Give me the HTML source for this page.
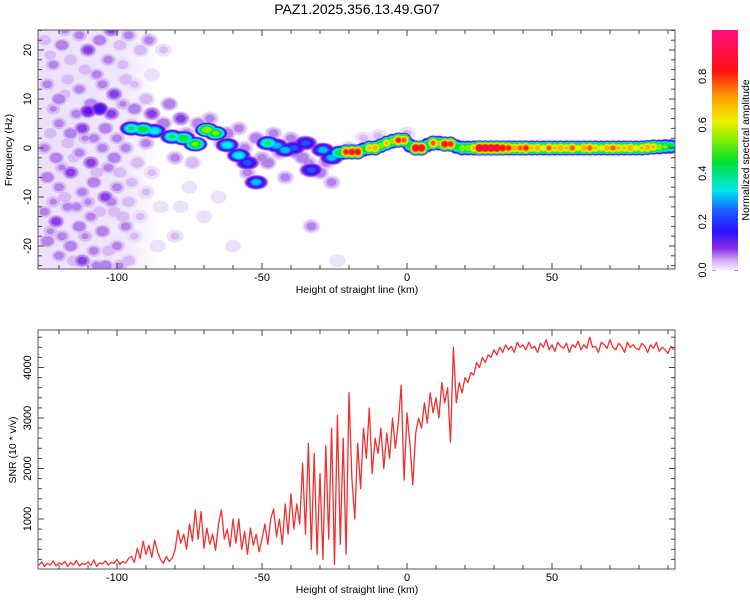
<!DOCTYPE html>
<html><head><meta charset="utf-8"><style>
body{margin:0;background:#fff;}
svg text{font-family:"Liberation Sans",sans-serif;fill:#000;}
</style></head><body>
<svg id="c" width="750" height="600" xmlns="http://www.w3.org/2000/svg">
<defs>
<clipPath id="clipTop"><rect x="38" y="30" width="637" height="239"/></clipPath>
<clipPath id="clipBot"><rect x="38" y="330" width="637" height="239"/></clipPath>
<linearGradient id="cbar" x1="0" y1="1" x2="0" y2="0">
<stop offset="0" stop-color="#f6f0fd"/><stop offset="0.04" stop-color="#cfaaf2"/><stop offset="0.09" stop-color="#8a2be2"/>
<stop offset="0.16" stop-color="#2a10ff"/><stop offset="0.25" stop-color="#1a60ff"/><stop offset="0.33" stop-color="#00e8f0"/>
<stop offset="0.45" stop-color="#00e030"/><stop offset="0.55" stop-color="#90f000"/><stop offset="0.62" stop-color="#f0f000"/>
<stop offset="0.72" stop-color="#ffa000"/><stop offset="0.83" stop-color="#ff1010"/><stop offset="1" stop-color="#ff1080"/>
</linearGradient>
<linearGradient id="washg" x1="0" y1="0" x2="1" y2="0">
<stop offset="0" stop-color="#ece0fa"/><stop offset="0.7" stop-color="#f1e8fb"/><stop offset="1" stop-color="#ffffff"/>
</linearGradient>
</defs>
<text x="357" y="14" font-size="14" text-anchor="middle">PAZ1.2025.356.13.49.G07</text>
<g id="spec" clip-path="url(#clipTop)"></g>
<g id="snr" clip-path="url(#clipBot)"></g>
<g id="axes"></g>
<rect x="712" y="30" width="26" height="240" fill="url(#cbar)"/>
<text transform="translate(749,150) rotate(-90)" font-size="10.5" text-anchor="middle">Normalized spectral amplitude</text>
<text transform="translate(12,150) rotate(-90)" font-size="10.5" text-anchor="middle">Frequency (Hz)</text>
<text transform="translate(16,450) rotate(-90)" font-size="10.5" text-anchor="middle">SNR (10 * v/v)</text>
<text x="357" y="293" font-size="10.5" text-anchor="middle">Height of straight line (km)</text>
<text x="357" y="593" font-size="10.5" text-anchor="middle">Height of straight line (km)</text>
</svg>
<script>
const noiseBlobs=[[-125,22,.08],[-122,17,.1],[-119,21,.12],[-116,18,.08],[-113,23,.1],[-110,20,.15],[-106,22,.12],[-103,18,.1],[-99,21,.08],[-96,23,.1],[-92,20,.08],[-89,22,.1],
[-124,13,.1],[-120,10,.12],[-117,14,.08],[-113,12,.1],[-109,9,.12],[-105,13,.1],[-101,11,.15],[-97,14,.08],
[-110,7.5,.2],[-106,8,.25],[-102,7,.15],[-120,5,.1],[-116,3,.12],[-112,4,.15],[-108,2,.1],[-104,4,.12],[-100,2,.1],
[-125,0,.1],[-121,-2,.12],[-117,1,.08],[-113,-1,.1],[-109,-3,.15],[-105,0,.1],[-101,-2,.12],[-97,0,.1],[-93,-3,.08],
[-124,-6,.12],[-120,-8,.1],[-116,-5,.15],[-112,-9,.1],[-108,-7,.12],[-104,-10,.15],[-100,-8,.1],[-96,-11,.08],
[-125,-13,.1],[-121,-15,.15],[-117,-12,.1],[-113,-16,.12],[-109,-14,.1],[-105,-17,.12],[-101,-13,.08],[-97,-16,.1],
[-124,-19,.12],[-120,-22,.1],[-116,-20,.12],[-112,-23,.15],[-108,-21,.1],[-104,-24,.12],[-100,-20,.1],[-96,-23,.08],
[-123,19,.07],[-118,24,.09],[-111,16,.08],[-107,15,.1],[-102,24,.14],[-98,17,.07],[-94,13,.06],[-122,8,.09],[-118,11,.07],[-114,7,.1],[-98,9,.09],[-95,5,.07],
[-123,3,.08],[-119,-4,.09],[-115,-2,.07],[-111,2,.09],[-107,-5,.08],[-103,-4,.1],[-99,-5,.08],[-95,-7,.07],
[-122,-11,.09],[-118,-10,.08],[-114,-12,.1],[-110,-11,.09],[-106,-13,.08],[-102,-11,.1],[-98,-14,.08],[-94,-18,.06],
[-123,-17,.09],[-119,-18,.1],[-115,-23,.08],[-111,-18,.09],[-107,-24,.1],[-103,-21,.08],[-99,-24,.09],[-92,-14,.06],
[-88,-5,.06],[-85,-12,.05],[-80,-18,.06],[-75,-8,.05],[-70,-14,.05],[-65,-10,.05],[-60,-20,.05],[-88,15,.05],[-84,20,.06],[-90,10,.08],[-86,-20,.05],[-78,-12,.05],[-90,-9,.06],
[-94,8,.12],[-88,7,.15],[-82,9,.12],[-78,6,.15],[-72,5,.12],[-68,6,.1],[-62,3,.12],[-58,4,.1],[-52,2,.12],[-46,3,.1],[-40,2,.1],[-36,-2,.12],[-30,-5,.12],[-26,-7,.1],[-33,-16,.1],[-24,-23,.05],[-80,-2,.1],[-74,-3,.08],[-90,1,.1],[-55,-5,.1],[-48,-3,.12],[-42,-6,.1],[-38,-1,.12],
[-84,5,.12],[-76,3,.1],[-64,1,.1],[-56,0,.1],[-50,-2,.1],[-44,-1,.1],[-34,-3,.1],[-28,-3,.1],[-20,0,.08],[-15,2,.06],[-10,2.5,.06],[0,3,.06]];
const ridgeBlobs=[[-95,4,.45],[-91,3.8,.5],[-87,3.5,.4],[-81,2.3,.45],[-77,2,.5],[-73,0.8,.55],[-69,3.7,.6],[-66,3,.55],[-62,0.6,.4],[-58,-1.5,.4],[-55,-3,.3],[-52,-7,.35],[-48,1,.45],[-45,0.5,.35],[-42,-0.4,.35],[-39,0,.3],[-35,1,.3],[-33,-4.5,.3],[-29,-0.4,.35],[-26,-2,.35],[-23,-1,.5]];
const ridgeStart=-21, ridgeStep=2;
const ridgeF=[-0.8,-0.8,-0.8,-0.3,0,0,0.5,1,1.4,1.6,1.6,0.5,0,0,0.6,1,1,0.8,0.8,0.3,0,0,
0,0,0,0,0,0,0,0,0,0,0,0,0,0,0,0,0,0,0,0,0,0,0,0,0,0,0,0,0,0,0.1,0.2,0.2,0.3,0.3];
const ridgeA=[.85,.9,.9,.5,.7,.75,.6,.7,.6,.85,.8,.5,.95,.95,.5,.8,.6,.9,.85,.5,.6,.6,
.7,.97,.97,.97,.97,.9,.85,.75,.8,.85,.7,.75,.65,.8,.7,.75,.7,.8,.65,.75,.8,.7,.65,.75,.8,.7,.7,.75,.65,.7,.75,.7,.6,.55,.5];
const snrStart=-127;
const snrValues=[80,150,60,120,90,170,70,130,100,160,60,140,90,180,70,120,100,150,80,190,60,130,110,170,90,140,120,200,100,160,130,220,
260,140,420,220,560,300,480,240,580,350,
200,120,260,160,220,380,780,
520,700,400,900,560,1180,600,1150,420,820,500,700,380,900,1180,600,800,450,1000,
520,1000,400,750,300,820,480,700,350,600,900,500,1000,1200,
650,1000,500,1300,700,1500,800,1300,900,2100,
700,2500,400,2300,300,1900,200,2450,600,2800,100,3050,500,2600,300,
3500,1800,1000,2500,1600,2800,2200,3200,1900,2600,
2300,2800,2000,2700,2200,3000,2400,2900,3650,1770,
3100,2500,1680,2700,3000,2800,3300,2900,3500,3100,
3400,3000,3700,3300,3600,2520,4400,3300,3700,3500,
3800,3700,3900,3850,4100,4000,4200,4100,4250,4200,
4350,4250,4400,4300,4450,4350,4420,4300,4500,4400,
4450,4350,4500,4380,4420,4300,4480,4400,4550,4350,4450,4320,4500,4420,4380,4480,4300,4450,4400,4520,4350,4450,4380,4600,4400,4420,4300,4500,4450,4380,4550,4400,4350,4480,4420,4300,4500,4400,4450,4380,4350,4480,4420,4300,4450,4380,4500,4320,4400,4350,4280,4420,4350];
const xTicks=[-100,-50,0,50];
const fTicks=[-20,-10,0,10,20];
const snrTicks=[1000,2000,3000,4000];
const cbTicks=[0.0,0.2,0.4,0.6,0.8];

const NS="http://www.w3.org/2000/svg";
const X=h=>407+h*2.9;
const YF=f=>148-f*4.9;
const YS=v=>569.5-v*0.0505;
const YC=a=>270-a*242;
function mk(t,attrs,parent){const e=document.createElementNS(NS,t);for(const k in attrs)e.setAttribute(k,attrs[k]);parent.appendChild(e);return e;}
const levels=[[0.02,'#ece0fa'],[0.05,'#d8bbf5'],[0.08,'#b482ec'],[0.12,'#8a3ee6'],[0.17,'#6a10e8'],[0.22,'#3c10f5'],[0.27,'#1a55ff'],[0.31,'#00b8ff'],[0.36,'#00f0e0'],[0.43,'#00e040'],[0.52,'#80f000'],[0.6,'#f0f000'],[0.68,'#ffb000'],[0.76,'#ff5000'],[0.83,'#ff1010'],[0.92,'#ff1060']];
const spec=document.getElementById('spec');
const wash=mk('rect',{x:38,y:30,width:X(-85)-38,height:239,fill:'url(#washg)'},spec);


const blobs=[];
noiseBlobs.forEach(b=>blobs.push({x:X(b[0]),y:YF(b[1]),a:b[2],rx:10,ry:8}));
ridgeBlobs.forEach(b=>blobs.push({x:X(b[0]),y:YF(b[1]),a:b[2],rx:13,ry:8}));
ridgeF.forEach((f,i)=>blobs.push({x:X(ridgeStart+i*ridgeStep),y:YF(f),a:ridgeA[i],rx:8,ry:8}));
levels.forEach(([l,col])=>{
  blobs.forEach(b=>{
    if(b.a<=l)return;
    const s=Math.pow(1-l/b.a,0.45);
    const e=mk('ellipse',{cx:b.x,cy:b.y,rx:Math.max(2,b.rx*s),ry:Math.max(1.6,b.ry*s),fill:col},spec);
    
    
  });
});
const snr=document.getElementById('snr');
const pts=snrValues.map((v,i)=>X(snrStart+i).toFixed(1)+','+YS(v).toFixed(1)).join(' ');
const line=mk('polyline',{points:pts,fill:'none',stroke:'#f03030','stroke-width':1.3,'stroke-linejoin':'round'},snr);



const ax=document.getElementById('axes');
function frame(y0,y1,name){
  const r=mk('rect',{x:38,y:y0,width:637,height:y1-y0,fill:'none',stroke:'#555','stroke-width':1},ax);
  
  
}
frame(30,269,'top-plot-frame');
frame(330,569,'bottom-plot-frame');
function tick(x1,y1,x2,y2){mk('line',{x1,y1,x2,y2,stroke:'#444','stroke-width':1},ax);}
for(let h=-120;h<=90;h+=10){
  const x=X(h),L=(h%50===0)?6:4;
  tick(x,269,x,269-L);tick(x,30,x,30+L);tick(x,569,x,569-L);tick(x,330,x,330+L);
}
xTicks.forEach(h=>{
  [281,581].forEach(y=>{
    const t=mk('text',{x:X(h),y:y,'font-size':11,'text-anchor':'middle'},ax);t.textContent=h;
    
    
  });
});
for(let f=-24;f<=24;f+=2){
  const y=YF(f),L=(f%10===0)?6:4;
  tick(38,y,38+L,y);tick(675,y,675-L,y);
}
fTicks.forEach(f=>{
  const t=mk('text',{transform:`translate(31,${YF(f)}) rotate(-90)`,'font-size':11,'text-anchor':'middle'},ax);t.textContent=f;
  
  
});
for(let v=200;v<=4600;v+=200){
  const y=YS(v),L=(v%1000===0)?6:4;
  tick(38,y,38+L,y);tick(675,y,675-L,y);
}
snrTicks.forEach(v=>{
  const t=mk('text',{transform:`translate(31,${YS(v)}) rotate(-90)`,'font-size':11,'text-anchor':'middle'},ax);t.textContent=v;
  
  
});
cbTicks.forEach(a=>{
  const t=mk('text',{transform:`translate(706,${YC(a)}) rotate(-90)`,'font-size':11,'text-anchor':'middle'},ax);t.textContent=a.toFixed(1);
  
  
});
tick(712,270,716,270);tick(738,270,734,270);
</script>
</body></html>
